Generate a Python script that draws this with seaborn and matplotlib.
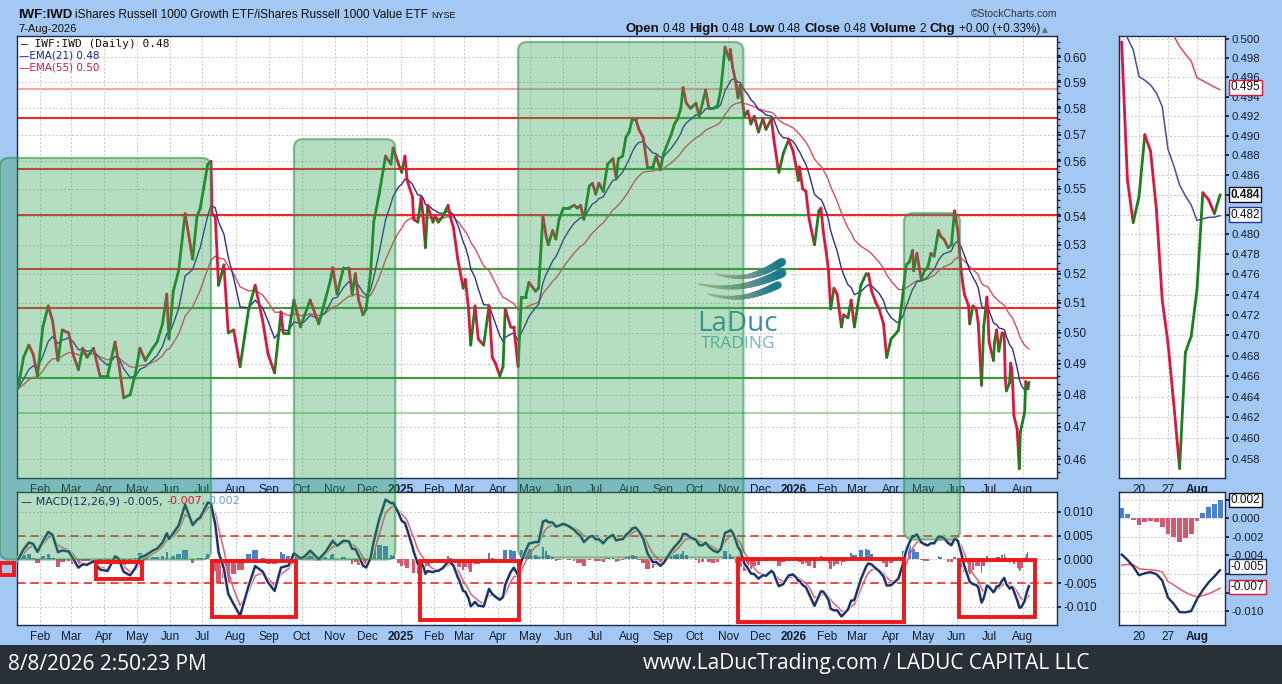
import numpy as np
import pandas as pd
import matplotlib
matplotlib.use("Agg")
import matplotlib.pyplot as plt
import matplotlib.dates as mdates
import matplotlib.ticker as mticker
import matplotlib.patheffects as pe
from matplotlib.collections import LineCollection
from matplotlib.patches import FancyBboxPatch, Rectangle
from matplotlib.transforms import IdentityTransform
import seaborn as sns

# ------------------------------------------------------------------ data
dates_2024 = ["01-12", "01-17", "01-22", "01-26", "01-30",
              "02-04", "02-09", "02-13", "02-18", "02-22", "02-28",
              "03-03", "03-08", "03-12", "03-16", "03-22", "03-28",
              "04-04", "04-11", "04-14", "04-19", "04-25", "04-30",
              "05-04", "05-09", "05-16", "05-20", "05-25", "05-29", "05-31",
              "06-04", "06-09", "06-15", "06-22", "06-26", "06-29",
              "07-06", "07-09", "07-10", "07-13", "07-16", "07-21", "07-25", "07-30",
              "08-05", "08-13", "08-19", "08-26", "08-31",
              "09-06", "09-12", "09-14", "09-19", "09-24", "09-30",
              "10-04", "10-09", "10-17", "10-23", "10-28", "10-30",
              "11-03", "11-09", "11-14", "11-17", "11-20", "11-23", "11-27", "11-30",
              "12-04", "12-07", "12-12", "12-18", "12-23", "12-25", "12-30"]
values_2024 = [0.482, 0.492, 0.496, 0.493, 0.486,
               0.502, 0.509, 0.504, 0.491, 0.501, 0.500,
               0.493, 0.488, 0.495, 0.492, 0.495, 0.486,
               0.486, 0.497, 0.491, 0.479, 0.480, 0.487,
               0.495, 0.491, 0.495, 0.497, 0.503, 0.513, 0.498,
               0.514, 0.521, 0.541, 0.525, 0.540, 0.543,
               0.559, 0.560, 0.541, 0.540, 0.516, 0.523, 0.500, 0.501,
               0.489, 0.508, 0.516, 0.504, 0.493,
               0.487, 0.507, 0.500, 0.500, 0.511, 0.502,
               0.506, 0.511, 0.503, 0.511, 0.518, 0.522,
               0.513, 0.522, 0.522, 0.513, 0.520, 0.511, 0.506, 0.508,
               0.520, 0.538, 0.548, 0.562, 0.559, 0.565, 0.559]

dates_2025 = ["01-02", "01-05", "01-07", "01-12", "01-13", "01-17", "01-20", "01-22", "01-24", "01-26", "01-31",
              "02-02", "02-05", "02-09", "02-14", "02-16", "02-19", "02-23", "02-24", "02-28",
              "03-02", "03-05", "03-07", "03-11", "03-14", "03-19", "03-24", "03-27", "03-30",
              "04-03", "04-06", "04-08", "04-13", "04-16", "04-20", "04-23", "04-27", "04-30",
              "05-06", "05-09", "05-13", "05-16", "05-18", "05-22", "05-25", "05-28",
              "06-01", "06-06", "06-11", "06-14", "06-17", "06-20", "06-25", "06-28",
              "07-01", "07-04", "07-08", "07-12", "07-17", "07-20", "07-22", "07-26", "07-29",
              "08-01", "08-04", "08-07", "08-10", "08-14", "08-18", "08-23", "08-26", "08-30",
              "09-02", "09-09", "09-12", "09-15", "09-18", "09-20", "09-23", "09-27",
              "10-02", "10-05", "10-08", "10-11", "10-14", "10-18", "10-22", "10-25", "10-29",
              "11-02", "11-03", "11-05", "11-08", "11-10", "11-12", "11-16", "11-19", "11-22", "11-25", "11-29",
              "12-03", "12-06", "12-11", "12-13", "12-17", "12-18", "12-22", "12-27", "12-31"]
values_2025 = [0.556, 0.562, 0.553, 0.547, 0.539, 0.538, 0.547, 0.539, 0.529, 0.544, 0.538,
               0.540, 0.538, 0.540, 0.544, 0.540, 0.536, 0.525, 0.523, 0.515,
               0.518, 0.508, 0.496, 0.509, 0.498, 0.496, 0.509, 0.492, 0.490,
               0.486, 0.489, 0.508, 0.502, 0.502, 0.489, 0.512, 0.512, 0.517,
               0.514, 0.515, 0.540, 0.533, 0.530, 0.535, 0.532, 0.539,
               0.543, 0.543, 0.544, 0.543, 0.544, 0.539, 0.551, 0.552,
               0.548, 0.552, 0.549, 0.559, 0.561, 0.554, 0.561, 0.562, 0.569,
               0.571, 0.576, 0.576, 0.572, 0.569, 0.558, 0.558, 0.562, 0.557,
               0.563, 0.570, 0.574, 0.576, 0.580, 0.588, 0.582, 0.580,
               0.582, 0.577, 0.582, 0.587, 0.580, 0.580, 0.581, 0.587, 0.604,
               0.599, 0.603, 0.596, 0.590, 0.584, 0.589, 0.577, 0.579, 0.574, 0.577, 0.571,
               0.576, 0.572, 0.576, 0.569, 0.558, 0.556, 0.563, 0.568, 0.564]

dates_2026 = ["01-03", "01-05", "01-06", "01-09", "01-12", "01-15", "01-20", "01-24", "01-26", "01-28", "01-31",
              "02-02", "02-04", "02-07", "02-10", "02-14", "02-16", "02-20", "02-23", "02-26",
              "03-04", "03-09", "03-11", "03-14", "03-18", "03-21", "03-25", "03-28",
              "04-01", "04-06", "04-08", "04-12", "04-15", "04-18", "04-21", "04-22", "04-25", "04-29",
              "05-02", "05-05", "05-08", "05-11", "05-15", "05-17", "05-20", "05-24", "05-27", "05-30",
              "06-02", "06-05", "06-08", "06-12", "06-13", "06-16", "06-19", "06-21", "06-24", "06-26", "06-29",
              "07-01", "07-05", "07-06", "07-08", "07-10", "07-13",
              "07-15", "07-16", "07-17", "07-20", "07-21", "07-22", "07-23", "07-24",
              "07-27", "07-28", "07-29", "07-30", "07-31",
              "08-03", "08-04", "08-05", "08-06", "08-07"]
values_2026 = [0.558, 0.553, 0.558, 0.550, 0.549, 0.539, 0.530, 0.542, 0.543, 0.535, 0.527,
               0.521, 0.508, 0.515, 0.513, 0.502, 0.506, 0.505, 0.511, 0.502,
               0.516, 0.520, 0.520, 0.514, 0.510, 0.508, 0.503, 0.492,
               0.498, 0.500, 0.501, 0.513, 0.523, 0.524, 0.528, 0.521, 0.527, 0.518,
               0.521, 0.522, 0.527, 0.526, 0.535, 0.533, 0.532, 0.529, 0.530, 0.542,
               0.535, 0.521, 0.513, 0.509, 0.503, 0.509, 0.508, 0.503, 0.483, 0.502, 0.512,
               0.497, 0.491, 0.497, 0.501, 0.494, 0.500,
               0.4997, 0.4855, 0.4812, 0.4838, 0.4901, 0.4884, 0.4825, 0.4735,
               0.4692, 0.4633, 0.4571, 0.4683, 0.4699,
               0.4745, 0.4842, 0.4835, 0.4821, 0.4840]

# horizontal support / resistance levels
level_values = [0.5874, 0.5763, 0.5572, 0.5405, 0.5216, 0.5083, 0.4853, 0.4742]
level_colors = ["#f5a5a5", "#f02828", "#f02828", "#f02828", "#f02828", "#f02828", "#3a9d3a", "#a8d8a8"]
level_seg_start = [None, "2025-09-13", "2025-07-10", "2025-05-18", "2024-12-08", "2024-06-09", "2026-07-30", "2026-07-22"]
level_seg_end = [None, "2025-12-19", "2026-01-02", "2026-01-13", "2026-01-05", "2026-04-09", "2026-09-10", "2026-08-03"]
level_seg_colors = [None, "#3a9d3a", "#3a9d3a", "#3a9d3a", "#3a9d3a", "#3a9d3a", "#f02828", "#f5a5a5"]

# green highlighted zones (price top -> MACD bottom)
zone_start = ["2023-12-26", "2024-09-24", "2025-04-20", "2026-04-13"]
zone_end = ["2024-07-09", "2024-12-27", "2025-11-15", "2026-06-04"]
zone_top = [0.5613, 0.5683, 0.6060, 0.5412]
zone_bottom = [0.0000, 0.0000, 0.0004, 0.0042]

# red boxes on the MACD panel
box_start = ["2023-12-26", "2024-03-24", "2024-07-10", "2025-01-19", "2025-11-10", "2026-06-03"]
box_end = ["2024-01-08", "2024-05-06", "2024-09-26", "2025-04-21", "2026-04-13", "2026-08-13"]
box_top = [-0.0007, -0.0005, -0.0003, -0.0003, 0.0001, -0.0001]
box_bottom = [-0.0033, -0.0041, -0.0121, -0.0127, -0.0132, -0.0121]

main_ticks = [0.46, 0.47, 0.48, 0.49, 0.50, 0.51, 0.52, 0.53, 0.54, 0.55, 0.56, 0.57, 0.58, 0.59, 0.60]
inset_ticks = [0.458, 0.460, 0.462, 0.464, 0.466, 0.468, 0.470, 0.472, 0.474, 0.476, 0.478,
               0.480, 0.482, 0.484, 0.486, 0.488, 0.490, 0.492, 0.494, 0.496, 0.498, 0.500]
macd_ticks = [0.010, 0.005, 0.000, -0.005, -0.010]
inset_macd_ticks = [0.002, 0.000, -0.002, -0.004, -0.006, -0.008, -0.010]
inset_macd_labels = ["0.002", "0.000", "-0.002", "-0.004", "", "", "-0.010"]
inset_day_ticks = ["2026-07-20", "2026-07-27", "2026-08-03"]
inset_day_labels = ["20", "27", "Aug"]
inset_start = "2026-07-15"

price_tags = ["0.495", "0.484", "0.482"]
price_tag_vals = [0.495, 0.484, 0.482]
macd_tags = ["0.002", "-0.005", "-0.007"]
macd_tag_vals = [0.002, -0.0052, -0.0074]

# ------------------------------------------------------------------ series
dates = pd.to_datetime(["2024-" + d for d in dates_2024] + ["2025-" + d for d in dates_2025]
                       + ["2026-" + d for d in dates_2026])
price = np.array(values_2024 + values_2025 + values_2026)
tdays = (dates - dates[0]).days.values * 5.0 / 7.0  # approx. trading-day clock


def ema(vals, n):
    """EMA on an irregular time grid: each sample weighted by its interval."""
    keep = 1.0 - 2.0 / (n + 1)
    out = np.empty(len(vals))
    out[0] = vals[0]
    for k in range(1, len(vals)):
        d = keep ** (tdays[k] - tdays[k - 1])
        out[k] = d * out[k - 1] + (1 - d) * vals[k]
    return out


ema21 = ema(price, 21)
ema55 = ema(price, 55)
macd = ema(price, 12) - ema(price, 26)
signal = ema(macd, 9)
hist = macd - signal

# ------------------------------------------------------------------ style
sns.set_theme(style="white")
plt.rcParams["font.family"] = ["Liberation Sans", "DejaVu Sans"]
UP, DOWN = "#17821a", "#e0143c"
C_E21, C_E55 = "#2e2e96", "#e24a62"
C_MACD, C_SIG = "#1b3160", "#f25a6c"
C_HPOS, C_HNEG = "#4a82d2", "#d6576e"
TXT = "#141c2c"
GRID = dict(color="#c8c8c8", linestyle=(0, (2, 2)), linewidth=0.7)

W, H = 1282, 684
fig = plt.figure(figsize=(W / 100, H / 100), dpi=100)
BG = "#a4c8f4"
fig.patch.set_facecolor(BG)


def add_ax(l, t, r, b):
    return fig.add_axes([l / W, 1 - b / H, (r - l) / W, (b - t) / H])


ax = add_ax(17, 36, 1057, 478)
axm = add_ax(17, 492, 1057, 625)
axi = add_ax(1119, 36, 1225, 478)
axim = add_ax(1119, 492, 1225, 625)

XL = (pd.Timestamp("2024-01-11"), pd.Timestamp("2026-09-02"))
months = pd.date_range("2024-02-01", "2026-08-01", freq="MS")
mlabels = [str(m.year) if m.month == 1 else m.strftime("%b") for m in months]


def style_axis(a):
    a.set_facecolor("white")
    for sp in a.spines.values():
        sp.set_color("#1e2c4c")
        sp.set_linewidth(1.0)
    a.yaxis.tick_right()
    a.tick_params(axis="y", which="major", length=3, pad=2, labelsize=8.5, colors=TXT, direction="out")
    a.tick_params(axis="y", which="minor", length=1.8, colors=TXT, direction="out")
    a.tick_params(axis="x", which="major", length=3, pad=1.5, labelsize=8.5, colors=TXT, direction="out")
    a.grid(True, which="major", **GRID)


def date_ticks(a):
    a.set_xlim(*XL)
    a.set_xticks(mdates.date2num(months))
    a.set_xticklabels(mlabels)
    for t, m in zip(a.get_xticklabels(), months):
        if m.month == 1:
            t.set_fontweight("bold")


def price_lines(a, x, y, lw):
    pts = np.column_stack([x, y])
    segs = np.stack([pts[:-1], pts[1:]], axis=1)
    cols = np.where(np.diff(y) >= 0, UP, DOWN)
    a.add_collection(LineCollection(segs, colors=cols, linewidths=lw, zorder=4,
                                    capstyle="round", joinstyle="round"))


# ------------------------------------------------------------------ main panel
style_axis(ax)
ax.set_yscale("log")
sns.lineplot(x=dates, y=ema55, ax=ax, color=C_E55, lw=1.0, zorder=3)
sns.lineplot(x=dates, y=ema21, ax=ax, color=C_E21, lw=1.0, zorder=3)
price_lines(ax, mdates.date2num(dates), price, 2.0)
for v, c, s, e, sc in zip(level_values, level_colors, level_seg_start, level_seg_end, level_seg_colors):
    ax.axhline(v, color=c, lw=1.5, zorder=2)
    if s is not None:
        ax.hlines(v, mdates.date2num(pd.Timestamp(s)), mdates.date2num(pd.Timestamp(e)),
                  color=sc, lw=1.5, zorder=2.1)
ax.set_ylim(0.4543, 0.6084)
ax.yaxis.set_major_locator(mticker.FixedLocator(main_ticks))
ax.yaxis.set_major_formatter(mticker.FormatStrFormatter("%.2f"))
ax.yaxis.set_minor_locator(mticker.FixedLocator(np.arange(0.456, 0.608, 0.0025)))
ax.yaxis.set_minor_formatter(mticker.NullFormatter())
ax.set_xlabel("")
ax.set_ylabel("")
date_ticks(ax)

# ------------------------------------------------------------------ MACD panel
style_axis(axm)
wd = np.append(np.diff(mdates.date2num(dates)) * 0.8, 0.8)
axm.bar(mdates.date2num(dates), hist, width=wd,
        color=np.where(hist >= 0, C_HPOS, C_HNEG), zorder=2, linewidth=0)
sns.lineplot(x=dates, y=signal, ax=axm, color=C_SIG, lw=1.1, zorder=3)
sns.lineplot(x=dates, y=macd, ax=axm, color=C_MACD, lw=1.7, zorder=4,
             path_effects=[pe.Stroke(linewidth=3.0, foreground="#e8eef8"), pe.Normal()])
for v in (0.005, -0.005):
    axm.axhline(v, color="#e83030", lw=1.2, ls=(0, (5, 3)), zorder=2.5)
axm.set_ylim(-0.01379, 0.01421)
axm.yaxis.set_major_locator(mticker.FixedLocator(macd_ticks))
axm.yaxis.set_major_formatter(mticker.FormatStrFormatter("%.3f"))
axm.set_xlabel("")
axm.set_ylabel("")
date_ticks(axm)

# ------------------------------------------------------------------ insets
mask = np.asarray(dates >= pd.Timestamp(inset_start))
idates = dates[mask].values.astype("datetime64[D]")
ii = np.busday_count(idates[0], idates)
tick_ii = np.busday_count(idates[0], np.array(inset_day_ticks, dtype="datetime64[D]"))

for a in (axi, axim):
    style_axis(a)
    a.set_xlim(-0.45, ii[-1] + 0.83)
    a.set_xticks(tick_ii)
    a.set_xticklabels(inset_day_labels)
    a.get_xticklabels()[-1].set_fontweight("bold")
    a.xaxis.set_minor_locator(mticker.FixedLocator(np.arange(-1, ii[-1] + 2)))
    a.tick_params(axis="x", which="minor", length=2, colors=TXT)
    a.tick_params(axis="y", labelsize=8.2)

axi.set_yscale("log")
sns.lineplot(x=ii, y=ema55[mask], ax=axi, color=C_E55, lw=1.1, zorder=3)
sns.lineplot(x=ii, y=ema21[mask], ax=axi, color="#4a4aa8", lw=1.1, zorder=3)
price_lines(axi, ii.astype(float), price[mask], 2.0)
axi.set_ylim(0.45619, 0.50031)
axi.yaxis.set_major_locator(mticker.FixedLocator(inset_ticks))
axi.yaxis.set_major_formatter(mticker.FormatStrFormatter("%.3f"))
axi.yaxis.set_minor_locator(mticker.NullLocator())
axi.set_xlabel("")
axi.set_ylabel("")

hv = hist[mask]
axim.bar(ii, hv, width=0.85, color=np.where(hv >= 0, C_HPOS, C_HNEG), zorder=2, linewidth=0)
sns.lineplot(x=ii, y=signal[mask], ax=axim, color=C_SIG, lw=1.1, zorder=3)
sns.lineplot(x=ii, y=macd[mask], ax=axim, color=C_MACD, lw=1.7, zorder=4)
axim.set_ylim(-0.01151, 0.00286)
axim.yaxis.set_major_locator(mticker.FixedLocator(inset_macd_ticks))
axim.yaxis.set_major_formatter(mticker.FixedFormatter(inset_macd_labels))
axim.set_xlabel("")
axim.set_ylabel("")


def tags(a, texts, vals, edges, bolds):
    for t, v, ec, b in zip(texts, vals, edges, bolds):
        a.annotate(t, xy=(1, v), xycoords=("axes fraction", "data"), xytext=(4, 0),
                   textcoords="offset points", ha="left", va="center", fontsize=8.5,
                   fontweight="bold" if b else "normal", color="#101010", zorder=10,
                   annotation_clip=False,
                   bbox=dict(boxstyle="square,pad=0.12", fc="white", ec=ec, lw=1.0))


tags(axi, price_tags, price_tag_vals, ["#e0143c", "#101010", "#2e2e96"], [False, True, False])
tags(axim, macd_tags, macd_tag_vals, ["#101010", "#1b3160", "#e0143c"], [False, False, False])

# ------------------------------------------------------------------ zones and boxes (figure level)
for s, e, top, bot in zip(zone_start, zone_end, zone_top, zone_bottom):
    xs, xe = mdates.date2num(pd.Timestamp(s)), mdates.date2num(pd.Timestamp(e))
    x0, y1 = ax.transData.transform((xs, top))
    x1, _ = ax.transData.transform((xe, top))
    _, y0 = axm.transData.transform((xs, bot))
    fig.add_artist(FancyBboxPatch((x0, y0), x1 - x0, y1 - y0,
                                  boxstyle="round,pad=0,rounding_size=9",
                                  transform=IdentityTransform(),
                                  fc=(0.20, 0.64, 0.33, 0.36), ec=(0.18, 0.55, 0.28, 0.55),
                                  lw=1.6, zorder=4))
for s, e, top, bot in zip(box_start, box_end, box_top, box_bottom):
    xs, xe = mdates.date2num(pd.Timestamp(s)), mdates.date2num(pd.Timestamp(e))
    x0, y1 = axm.transData.transform((xs, top))
    x1, y0 = axm.transData.transform((xe, bot))
    fig.add_artist(Rectangle((x0, y0), x1 - x0, y1 - y0, transform=IdentityTransform(),
                             fc="none", ec="#f01818", lw=2.8, zorder=5))

# ------------------------------------------------------------------ texts
renderer = fig.canvas.get_renderer()


def rich(x, y, pieces, ha="left", gap=0.27):
    objs, widths = [], []
    for s, size, weight, color, fam in pieces:
        t = fig.text(0, 1 - y / H, s, fontsize=size, fontweight=weight, color=color,
                     va="baseline", ha="left", family=fam, zorder=6)
        objs.append(t)
        widths.append(t.get_window_extent(renderer).width)
    gaps = [gap * p[1] * 100 / 72 for p in pieces]
    total = sum(widths) + sum(gaps[1:])
    cur = x - total if ha == "right" else x
    for i, (t, wdt) in enumerate(zip(objs, widths)):
        if i > 0:
            cur += gaps[i]
        t.set_x(cur / W)
        cur += wdt


LS = ["Liberation Sans", "DejaVu Sans"]
rich(18, 18, [("IWF:IWD", 9.5, "bold", "#101010", LS),
              ("iShares Russell 1000 Growth ETF/iShares Russell 1000 Value ETF", 8.6, "normal", "#101010", LS),
              ("NYSE", 6.5, "normal", "#101010", LS)])
fig.text(18 / W, 1 - 32 / H, "7-Aug-2026", fontsize=8, color="#101010", va="baseline")
fig.text(1057 / W, 1 - 17 / H, "\u00a9StockCharts.com", fontsize=7.5, color="#333333",
         va="baseline", ha="right")
B, R = 9.5, 8.5
rich(1048, 32, [("Open", B, "bold", "#101010", LS), ("0.48", R, "normal", "#101010", LS),
                ("High", B, "bold", "#101010", LS), ("0.48", R, "normal", "#101010", LS),
                ("Low", B, "bold", "#101010", LS), ("0.48", R, "normal", "#101010", LS),
                ("Close", B, "bold", "#101010", LS), ("0.48", R, "normal", "#101010", LS),
                ("Volume", B, "bold", "#101010", LS), ("2", R, "normal", "#101010", LS),
                ("Chg", B, "bold", "#101010", LS), ("+0.00 (+0.33%)", R, "normal", "#101010", LS),
                ("\u25b2", 5.5, "normal", "#707070", ["DejaVu Sans"])], ha="right")

fig.text(21 / W, 1 - 47 / H, "\u2014 IWF:IWD (Daily) 0.48", fontsize=8, color="#101010",
         family=["DejaVu Sans Mono"], va="baseline", zorder=6)
fig.text(19 / W, 1 - 59 / H, "\u2014EMA(21) 0.48", fontsize=7.5, color="#2020a0",
         family=["DejaVu Sans"], va="baseline", zorder=6)
fig.text(19 / W, 1 - 71 / H, "\u2014EMA(55) 0.50", fontsize=7.5, color="#e0143c",
         family=["DejaVu Sans"], va="baseline", zorder=6)
rich(21, 504, [("\u2014 MACD(12,26,9) -0.005,", 8, "normal", "#1b3160", ["DejaVu Sans"]),
               ("-0.007,", 8, "normal", "#e0143c", ["DejaVu Sans"]),
               ("0.002", 8, "normal", "#6a9ee0", ["DejaVu Sans"])], gap=0.3)

# watermark logo (three swooshes)
tt = np.linspace(0, 1, 50)
for (x0_, y0_, x1_, y1_, lw1) in [(716, 274, 782, 262, 6.0), (699, 284, 782, 273, 6.5), (708, 294, 778, 285, 5.5)]:
    xs_ = x0_ + (x1_ - x0_) * tt
    ys_ = y0_ + (y1_ - y0_) * tt ** 1.6 + 6 * np.sin(np.pi * tt)
    pts = np.column_stack([xs_, H - ys_])
    segs = np.stack([pts[:-1], pts[1:]], axis=1)
    u = tt[:-1]
    cmix = np.column_stack([0.86 * (1 - u) + 0.08 * u, 0.74 * (1 - u) + 0.47 * u, 0.62 * (1 - u) + 0.54 * u])
    fig.add_artist(LineCollection(segs, colors=cmix, linewidths=np.linspace(1.2, lw1, 49),
                                  transform=IdentityTransform(), zorder=3.5, alpha=0.9,
                                  capstyle="round"))
fig.text(738 / W, 1 - 331 / H, "LaDuc", fontsize=20, color="#3a90a2", ha="center", va="baseline",
         family=["Open Sans", "DejaVu Sans"], zorder=3.5)
fig.text(738 / W, 1 - 348 / H, "TRADING", fontsize=12.5, color="#6cb4c6", ha="center", va="baseline",
         family=["Open Sans", "DejaVu Sans"], zorder=3.5)

# footer bar
fig.add_artist(Rectangle((0, 0), 1, 39 / H, transform=fig.transFigure, fc="#2a3037", ec="none", zorder=6))
fig.text(8 / W, 1 - 664 / H, "8/8/2026 2:50:23 PM", fontsize=15, color="white", va="center",
         family=["Open Sans", "DejaVu Sans"], zorder=7)
fig.text(643 / W, 1 - 664 / H, "www.LaDucTrading.com / LADUC CAPITAL LLC", fontsize=15, color="white",
         va="center", family=["Open Sans", "DejaVu Sans"], zorder=7)

fig.savefig("out.png", dpi=100, facecolor=fig.get_facecolor())
